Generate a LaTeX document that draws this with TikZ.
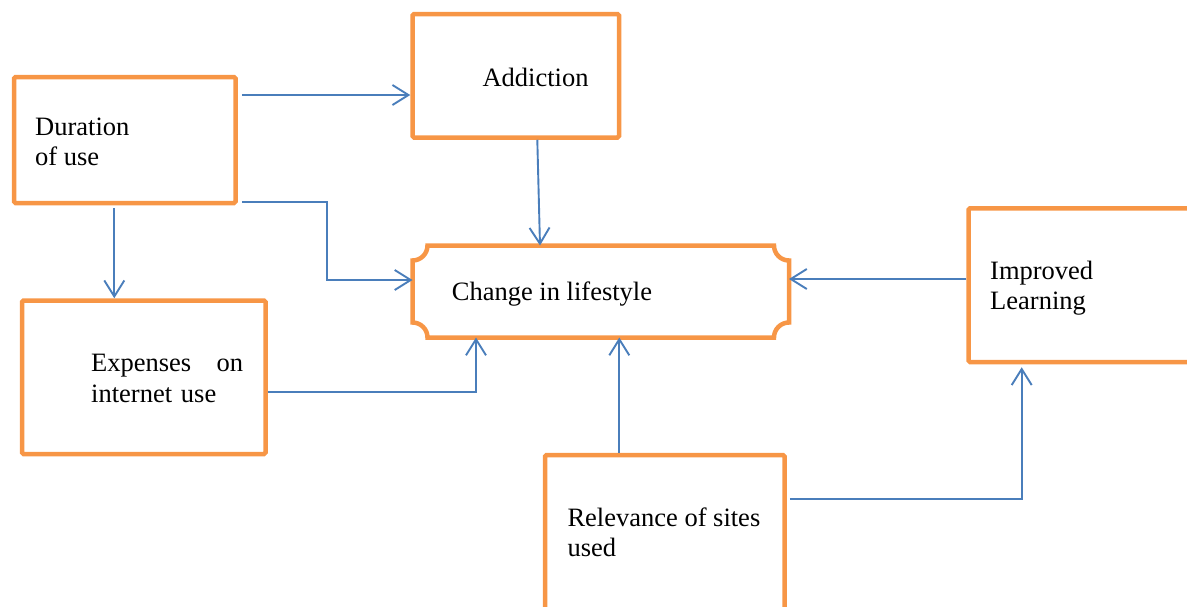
\documentclass[tikz,border=0pt]{standalone}
\usepackage{fontspec}
\setmainfont{Liberation Serif}
\usetikzlibrary{arrows.meta}
\definecolor{boxorange}{HTML}{F79646}
\definecolor{linkblue}{HTML}{4A7EBB}

\begin{document}
\begin{tikzpicture}[x=1pt, y=-1pt,
  box/.style={draw=boxorange, line width=4.5pt, inner sep=0pt, rounded corners=1.5pt},
  lbl/.style={anchor=base west, inner sep=0pt, align=left, font=\fontsize{26.5}{30.5}\selectfont},
  link/.style={draw=linkblue, line width=1.9pt, -{Straight Barb[length=16pt,width=20pt]}}]
\useasboundingbox (0,0) rectangle (1187,606);
\clip (0,0) rectangle (1187,606);
% Boxes
\node[box, minimum width=221.5pt, minimum height=126pt] (dur) at (124.75,140) {};
\node[box, minimum width=206.5pt, minimum height=123.5pt] (add) at (515.75,75.75) {};
\node[minimum width=376.5pt, minimum height=92pt, inner sep=0pt, outer sep=0pt] (chg) at (600.75,291.5) {};
\node[box, minimum width=243.5pt, minimum height=153.5pt] (exp) at (143.75,377.25) {};
\node[box, minimum width=261.5pt, minimum height=153.7pt] (imp) at (1099.25,285.15) {};
\node[box, minimum width=239.5pt, minimum height=185pt] (rel) at (664.75,547.5) {};
% Plaque round chg
\draw[boxorange, line width=4.5pt] ([xshift=15pt]chg.north west) -- ([xshift=-15pt]chg.north east)
  arc[start angle=180, end angle=270, radius=15pt] -- ([yshift=15pt]chg.south east)
  arc[start angle=90, end angle=180, radius=15pt] -- ([xshift=15pt]chg.south west)
  arc[start angle=0, end angle=90, radius=15pt] -- ([yshift=-15pt]chg.north west)
  arc[start angle=270, end angle=360, radius=15pt] -- cycle;
% Texts (base = last line)
\node[lbl] (durtext) at (35,165.5) {Duration\\of use};
\node[lbl] (addtext) at (482.3,86) {Addiction};
\node[lbl] (chgtext) at (451.7,300.7) {Change in lifestyle};
\node[lbl, text width=152pt] (exptext) at (91,371.7) {Expenses\hfill on\\internet use};
\node[lbl] (imptext) at (990,309.8) {Improved\\Learning};
\node[lbl] (reltext) at (567.3,556.5) {Relevance of sites\\used};
% Arrows
\draw[link, shorten <=4pt] (dur.east |- 0,95) -- (add.west |- 0,95);
\draw[link, shorten <=4pt] (dur.east |- 0,201.7) -- ++(89,0) |- (chg.west |- 0,280);
\draw[link, shorten <=3pt] (dur.south -| 114.3,0) -- (exp.north -| 114.3,0);
\draw[link] (add.south -| 537.3,0) -- (chg.north -| 540,0);
\draw[link] (exp.east |- 0,392.3) -| (chg.south -| 476,0);
\draw[link] (rel.north -| 619.3,0) -- (chg.south -| 619.3,0);
\draw[link, shorten <=3pt, shorten >=3pt] (rel.east |- 0,499) -| (imp.south -| 1021.7,0);
\draw[link] (imp.west |- 0,279) -- (chg.east |- 0,279);
\end{tikzpicture}
\end{document}
